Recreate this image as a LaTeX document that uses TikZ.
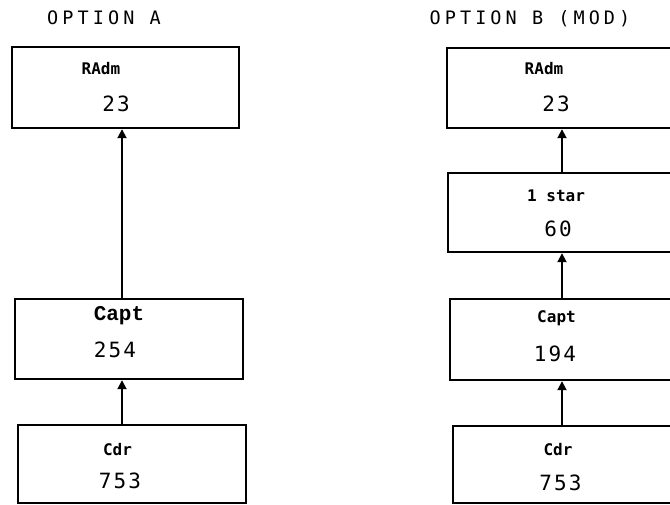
\documentclass[tikz,border=0pt]{standalone}
\usepackage{fontspec}
\usetikzlibrary{arrows.meta}
\newfontfamily\titlefont[LetterSpace=22]{DejaVu Sans Mono}
\newfontfamily\numfont[LetterSpace=10]{DejaVu Sans Mono}
\newfontfamily\rankfont{DejaVu Sans Mono}
\newfontfamily\slabfont{Liberation Mono}
\begin{document}
\begin{tikzpicture}[x=1pt,y=-1pt,
  box/.style={draw,line width=2.4pt,rectangle,inner sep=0pt},
  link/.style={line width=1.8pt,-{Triangle[width=9pt,length=9pt]}},
  heading/.style={anchor=base,inner sep=0pt,font=\titlefont\fontsize{18.5}{20}\selectfont},
  count/.style={anchor=base,inner sep=0pt,font=\numfont\fontsize{21}{24}\selectfont},
  rank/.style={anchor=base,inner sep=0pt,font=\rankfont\bfseries\fontsize{16}{20}\selectfont},
  slabrank/.style={anchor=base,inner sep=0pt,font=\slabfont\bfseries\fontsize{21}{24}\selectfont},
]
\clip (0,0) rectangle (670,505);
\fill[white] (0,0) rectangle (670,505);

% column headings
\node[heading] (hA) at (104,25) {OPTION A};
\node[heading] (hB) at (530,25) {OPTION B (MOD)};

% option A boxes
\node[box,minimum width=227pt,minimum height=81pt] (raA) at (125.5,87.5) {};
\node[box,minimum width=228pt,minimum height=80pt] (capA) at (129,339) {};
\node[box,minimum width=228pt,minimum height=78pt] (cdrA) at (132,464) {};

% option B boxes (running off the right edge)
\node[box,minimum width=253pt,minimum height=80pt] (raB) at (573.5,88) {};
\node[box,minimum width=252pt,minimum height=79pt] (starB) at (574,212.5) {};
\node[box,minimum width=250pt,minimum height=81pt] (capB) at (575,339.5) {};
\node[box,minimum width=247pt,minimum height=77pt] (cdrB) at (576.5,464.5) {};

% option A labels
\node[rank] (raAt) at (101,75) {RAdm};
\node[count] (raAn) at (116,112) {23};
\node[slabrank] (capAt) at (119,320) {Capt};
\node[count] (capAn) at (115,358) {254};
\node[rank] (cdrAt) at (117.5,455) {Cdr};
\node[count] (cdrAn) at (120,488) {753};

% option B labels
\node[rank] (raBt) at (544,75) {RAdm};
\node[count] (raBn) at (556,112) {23};
\node[rank] (starBt) at (556,202) {1 star};
\node[count] (starBn) at (558,237) {60};
\node[rank] (capBt) at (556.5,323) {Capt};
\node[count] (capBn) at (555,362) {194};
\node[rank] (cdrBt) at (558,455) {Cdr};
\node[count] (cdrBn) at (560.5,490) {753};

% promotion links
\coordinate (axA) at (122,0);
\coordinate (axB) at (562,0);
\draw[link] (capA.north -| axA) -- (raA.south -| axA);
\draw[link] (cdrA.north -| axA) -- (capA.south -| axA);
\draw[link] (starB.north -| axB) -- (raB.south -| axB);
\draw[link] (capB.north -| axB) -- (starB.south -| axB);
\draw[link] (cdrB.north -| axB) -- (capB.south -| axB);
\end{tikzpicture}
\end{document}
